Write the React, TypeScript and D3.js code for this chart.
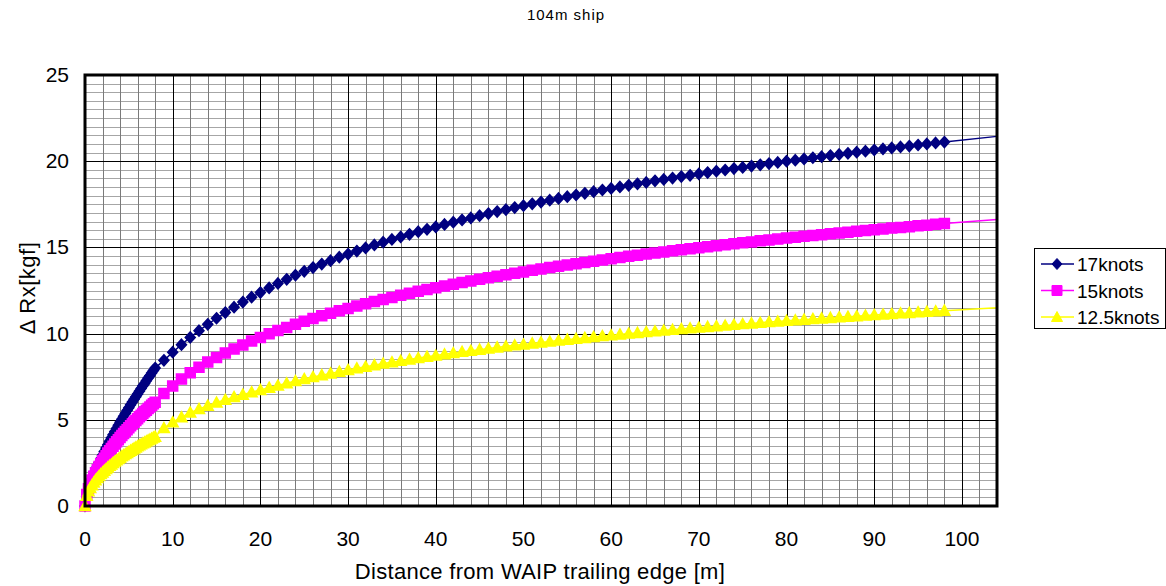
import * as d3 from 'd3';

// distance from trailing edge [m] - dense part up to 8 m, then every metre
const distNear = [0, 0.2, 0.4, 0.6, 0.8, 1, 1.2, 1.4, 1.6, 1.8, 2, 2.2, 2.4, 2.6, 2.8, 3, 3.2, 3.4, 3.6, 3.8, 4, 4.2, 4.4, 4.6, 4.8, 5, 5.2, 5.4, 5.6, 5.8, 6, 6.2, 6.4, 6.6, 6.8, 7, 7.2, 7.4, 7.6, 7.8, 8];
const distFar = [9, 10, 11, 12, 13, 14, 15, 16, 17, 18, 19, 20, 21, 22, 23, 24, 25, 26, 27, 28, 29, 30, 31, 32, 33, 34, 35, 36, 37, 38, 39, 40, 41, 42, 43, 44, 45, 46, 47, 48, 49, 50, 51, 52, 53, 54, 55, 56, 57, 58, 59, 60, 61, 62, 63, 64, 65, 66, 67, 68, 69, 70, 71, 72, 73, 74, 75, 76, 77, 78, 79, 80, 81, 82, 83, 84, 85, 86, 87, 88, 89, 90, 91, 92, 93, 94, 95, 96, 97, 98];

const rx17Near = [0, 0.56, 0.93, 1.24, 1.52, 1.79, 2.04, 2.28, 2.51, 2.73, 2.95, 3.16, 3.36, 3.56, 3.76, 3.95, 4.14, 4.32, 4.5, 4.68, 4.86, 5.03, 5.2, 5.37, 5.54, 5.7, 5.87, 6.03, 6.19, 6.34, 6.5, 6.66, 6.81, 6.97, 7.11, 7.27, 7.42, 7.56, 7.71, 7.86, 8.0];
const rx17Far = [8.45, 8.92, 9.36, 9.78, 10.17, 10.54, 10.89, 11.22, 11.53, 11.83, 12.11, 12.38,
  12.65, 12.91, 13.15, 13.39, 13.61, 13.83, 14.03, 14.23, 14.43, 14.61,
  14.79, 14.97, 15.14, 15.3, 15.46, 15.61, 15.76, 15.91, 16.05, 16.19,
  16.33, 16.46, 16.59, 16.71, 16.84, 16.96, 17.08, 17.19, 17.31, 17.42,
  17.53, 17.63, 17.74, 17.84, 17.94, 18.04, 18.14, 18.23, 18.33, 18.42,
  18.51, 18.6, 18.69, 18.77, 18.86, 18.94, 19.02, 19.11, 19.18, 19.26,
  19.34, 19.42, 19.49, 19.57, 19.64, 19.72, 19.79, 19.86, 19.93, 20.0,
  20.06, 20.13, 20.2, 20.26, 20.33, 20.39, 20.46, 20.52, 20.58, 20.65,
  20.71, 20.77, 20.83, 20.88, 20.94, 21.0, 21.06, 21.11];

const rx15Near = [0, 0.66, 1.0, 1.27, 1.51, 1.73, 1.93, 2.12, 2.29, 2.46, 2.62, 2.77, 2.92, 3.07, 3.21, 3.34, 3.47, 3.6, 3.73, 3.85, 3.97, 4.09, 4.2, 4.32, 4.43, 4.54, 4.65, 4.75, 4.86, 4.96, 5.06, 5.17, 5.27, 5.36, 5.46, 5.55, 5.65, 5.74, 5.84, 5.93, 6.02];
const rx15Far = [6.52, 6.96, 7.36, 7.73, 8.05, 8.35, 8.62, 8.88, 9.11, 9.34, 9.57, 9.78,
  9.99, 10.18, 10.36, 10.54, 10.71, 10.87, 11.03, 11.18, 11.32, 11.46,
  11.6, 11.73, 11.86, 11.98, 12.1, 12.22, 12.34, 12.45, 12.56, 12.66,
  12.76, 12.86, 12.96, 13.05, 13.15, 13.24, 13.33, 13.41, 13.5, 13.58,
  13.67, 13.75, 13.83, 13.9, 13.98, 14.05, 14.13, 14.2, 14.27, 14.34,
  14.41, 14.48, 14.54, 14.61, 14.67, 14.74, 14.8, 14.86, 14.92, 14.98,
  15.04, 15.1, 15.15, 15.21, 15.27, 15.32, 15.38, 15.43, 15.48, 15.54,
  15.59, 15.64, 15.69, 15.74, 15.79, 15.83, 15.88, 15.93, 15.98, 16.03,
  16.07, 16.12, 16.16, 16.2, 16.25, 16.29, 16.34, 16.38];

const rx125Near = [0, 0.59, 0.85, 1.05, 1.21, 1.36, 1.5, 1.62, 1.74, 1.85, 1.95, 2.05, 2.15, 2.24, 2.33, 2.41, 2.5, 2.58, 2.65, 2.73, 2.8, 2.88, 2.95, 3.01, 3.08, 3.15, 3.21, 3.28, 3.34, 3.4, 3.46, 3.52, 3.58, 3.64, 3.69, 3.75, 3.81, 3.86, 3.91, 3.97, 4.02];
const rx125Far = [4.52, 4.86, 5.15, 5.42, 5.63, 5.82, 6.0, 6.16, 6.32, 6.46, 6.6, 6.73,
  6.86, 6.99, 7.12, 7.25, 7.37, 7.48, 7.59, 7.69, 7.79, 7.89,
  7.99, 8.08, 8.17, 8.26, 8.34, 8.42, 8.5, 8.58, 8.66, 8.73,
  8.8, 8.87, 8.94, 9.0, 9.07, 9.13, 9.2, 9.26, 9.32, 9.37,
  9.43, 9.49, 9.54, 9.6, 9.65, 9.7, 9.75, 9.8, 9.86, 9.9,
  9.95, 10.0, 10.04, 10.09, 10.13, 10.18, 10.22, 10.27, 10.31, 10.35,
  10.39, 10.43, 10.47, 10.51, 10.55, 10.59, 10.63, 10.67, 10.7, 10.74,
  10.77, 10.81, 10.85, 10.88, 10.91, 10.95, 10.98, 11.01, 11.05, 11.08,
  11.11, 11.14, 11.18, 11.2, 11.24, 11.27, 11.3, 11.33];

// thin trend line running past the last marker to the plot edge
const trendDist = [98, 104];
const trend17 = [21.11, 21.44];
const trend15 = [16.38, 16.62];
const trend125 = [11.33, 11.5];

const seriesNames = ['17knots', '15knots', '12.5knots'];
const seriesColors = ['#000080', '#FF00FF', '#FFFF00'];

const xTicks = [0, 10, 20, 30, 40, 50, 60, 70, 80, 90, 100];
const yTicks = [0, 5, 10, 15, 20, 25];

const FONT = '"Liberation Sans", Arial, sans-serif';

// marker shapes
const diamond = 'M0,-5.5L5,0L0,5.5L-5,0Z';
const square = 'M-5,-5H5V5H-5Z';
const triangle = 'M0,-5.5L5.5,4.5L-5.5,4.5Z';
const markerPaths = [diamond, square, triangle];

export default function App() {
  const width = 1166;
  const height = 586;

  const x = d3.scaleLinear().domain([0, 104]).range([85, 997]);
  const y = d3.scaleLinear().domain([0, 25]).range([506, 75]);

  const dist = distNear.concat(distFar);
  const series = [
    { vals: rx17Near.concat(rx17Far), trend: trend17 },
    { vals: rx15Near.concat(rx15Far), trend: trend15 },
    { vals: rx125Near.concat(rx125Far), trend: trend125 },
  ];

  const line = d3.line<[number, number]>()
    .x(d => x(d[0]))
    .y(d => y(d[1]));

  // grid
  const xMinor = d3.range(0, 105, 2).filter(v => v % 10 !== 0);
  const xMajor = d3.range(10, 105, 10);
  const yMinor = d3.range(0, 25, 0.5).filter(v => v % 5 !== 0);
  const yMajor = d3.range(5, 25, 5);

  const [x0, x1] = x.range();
  const [y0, y1] = y.range();

  return (
    <svg width={width} height={height} style={{ position: 'absolute', left: 0, top: 0, background: '#fff' }}>
      <text x={566} y={20} textAnchor="middle" fontFamily={FONT} fontSize={15} letterSpacing={1}>104m ship</text>

      <g shapeRendering="crispEdges">
        {yMinor.map(v => (
          <line key={'ym' + v} x1={x0} x2={x1} y1={Math.round(y(v)) + 0.5} y2={Math.round(y(v)) + 0.5} stroke="#a6a6a6" strokeWidth={1} />
        ))}
        {xMinor.map(v => (
          <line key={'xm' + v} y1={y1} y2={y0} x1={Math.round(x(v)) + 0.5} x2={Math.round(x(v)) + 0.5} stroke="#7a7a7a" strokeWidth={1} />
        ))}
        {yMajor.map(v => (
          <line key={'yM' + v} x1={x0} x2={x1} y1={Math.round(y(v)) + 0.5} y2={Math.round(y(v)) + 0.5} stroke="#000" strokeWidth={1} />
        ))}
        {xMajor.map(v => (
          <line key={'xM' + v} y1={y1} y2={y0} x1={Math.round(x(v)) + 0.5} x2={Math.round(x(v)) + 0.5} stroke="#000" strokeWidth={1} />
        ))}
      </g>

      {series.map((s, i) => {
        const pts: [number, number][] = dist.map((d, j) => [d, s.vals[j]]);
        const tr: [number, number][] = trendDist.map((d, j) => [d, s.trend[j]]);
        return (
          <g key={i}>
            <path d={line(tr) || ''} fill="none" stroke={seriesColors[i]} strokeWidth={1.5} />
            <path d={line(pts) || ''} fill="none" stroke={seriesColors[i]} strokeWidth={1.5} />
            {pts.map((p, j) => (
              <path key={j} d={markerPaths[i]} transform={`translate(${x(p[0])},${y(p[1])})`} fill={seriesColors[i]} stroke={seriesColors[i]} strokeWidth={1.5} />
            ))}
          </g>
        );
      })}

      <rect x={x0} y={y1} width={x1 - x0} height={y0 - y1} fill="none" stroke="#000" strokeWidth={3} />

      {yTicks.map(v => (
        <text key={'yt' + v} x={69} y={y(v) + 7} textAnchor="end" fontFamily={FONT} fontSize={21}>{v}</text>
      ))}
      {xTicks.map(v => (
        <text key={'xt' + v} x={x(v)} y={546} textAnchor="middle" fontFamily={FONT} fontSize={21}>{v}</text>
      ))}

      <text x={540} y={579} textAnchor="middle" fontFamily={FONT} fontSize={22} letterSpacing={0.3}>Distance from WAIP trailing edge [m]</text>
      <text transform="translate(35,288) rotate(-90)" textAnchor="middle" fontFamily={FONT} fontSize={22} letterSpacing={0.5}>Δ Rx[kgf]</text>

      <g>
        <rect x={1034.5} y={248.5} width={131} height={80} fill="#fff" stroke="#000" strokeWidth={1} />
        {seriesNames.map((n, i) => {
          const ly = 264 + i * 26.5;
          return (
            <g key={n}>
              <line x1={1041} x2={1074} y1={ly} y2={ly} stroke={seriesColors[i]} strokeWidth={1.5} />
              <path d={markerPaths[i]} transform={`translate(1057,${ly})`} fill={seriesColors[i]} stroke={seriesColors[i]} />
              <text x={1077} y={ly + 7} fontFamily={FONT} fontSize={19}>{n}</text>
            </g>
          );
        })}
      </g>
    </svg>
  );
}
